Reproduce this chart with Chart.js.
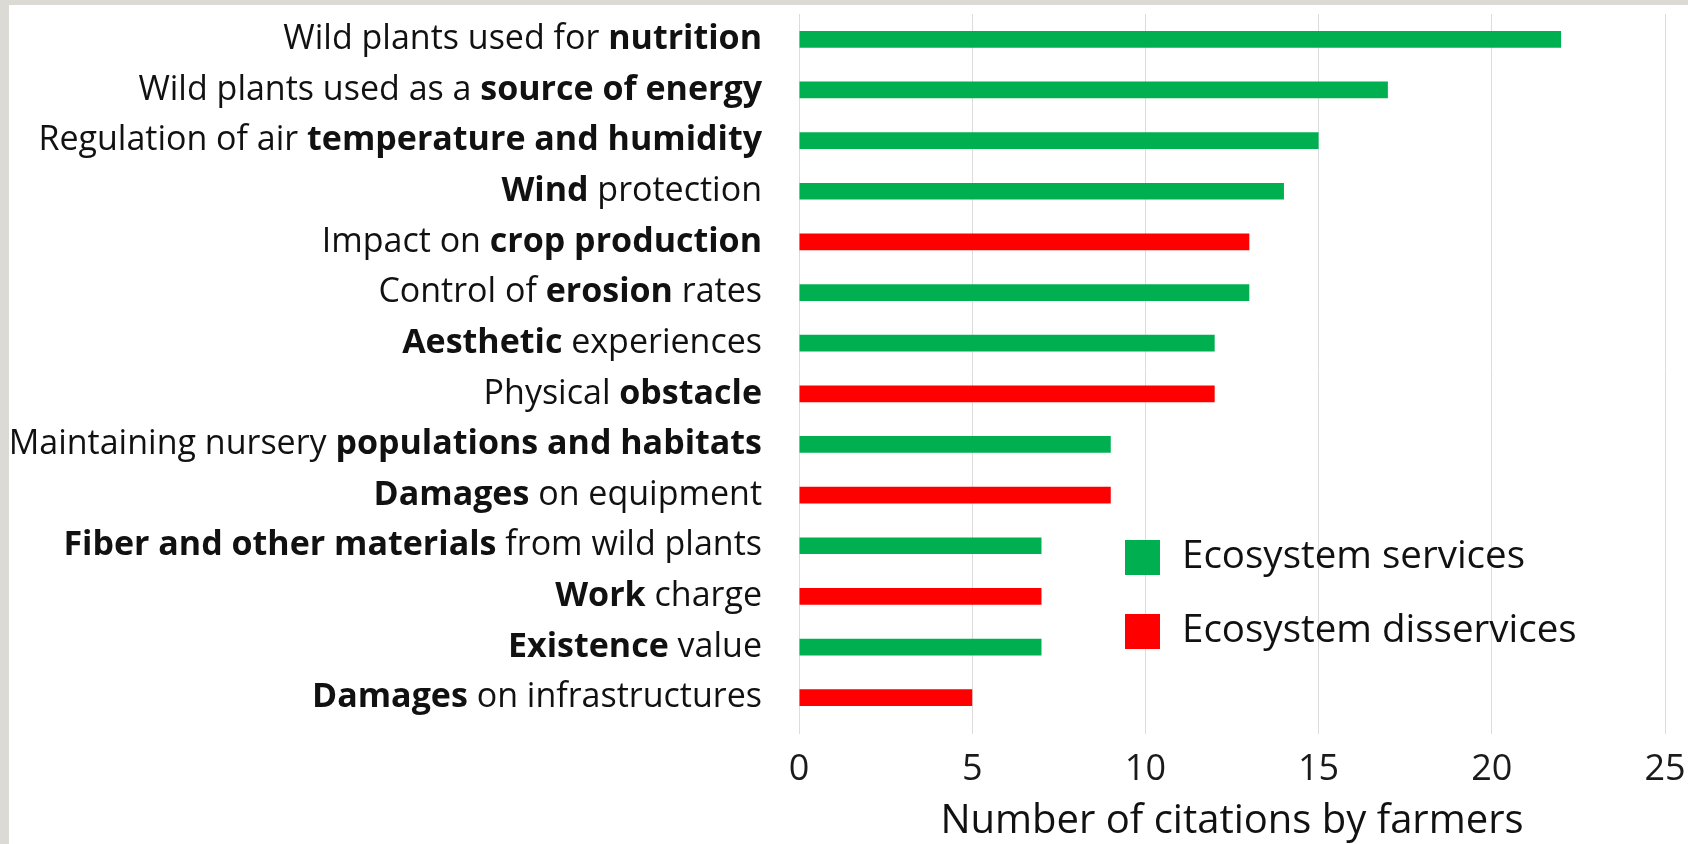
<!DOCTYPE html>
<html>
<head>
<meta charset="utf-8">
<script src="https://cdn.jsdelivr.net/npm/chart.js@4"></script>
<style>
  html, body { margin: 0; padding: 0; }
  body { width: 1688px; height: 844px; background: #dcdad5; position: relative; overflow: hidden; }
  #wrap { position: absolute; left: 9px; top: 5px; width: 1679px; height: 839px; background: #fff; }
</style>
</head>
<body>
<div id="wrap"><canvas id="chart" width="1679" height="839"></canvas></div>
<script>
// ** marks the bold part of each category label
const categories = [
  'Wild plants used for **nutrition**',
  'Wild plants used as a **source of energy**',
  'Regulation of air **temperature and humidity**',
  '**Wind** protection',
  'Impact on **crop production**',
  'Control of **erosion** rates',
  '**Aesthetic** experiences',
  'Physical **obstacle**',
  'Maintaining nursery **populations and habitats**',
  '**Damages** on equipment',
  '**Fiber and other materials** from wild plants',
  '**Work** charge',
  '**Existence** value',
  '**Damages** on infrastructures'
];
const servicesValues    = [22, 17, 15, 14, null, 13, 12, null, 9, null, 7, null, 7, null];
const disservicesValues = [null, null, null, null, 13, null, null, 12, null, 9, null, 7, null, 5];
const seriesNames = ['Ecosystem services', 'Ecosystem disservices'];
const xTicks = [0, 5, 10, 15, 20, 25];
const xTitle = 'Number of citations by farmers';

const FONT = '"Open Sans", sans-serif';
const GREEN = '#00b050';
const RED = '#ff0000';

// draws category labels with mixed regular/bold parts
const richLabels = {
  id: 'richLabels',
  afterDraw(chart) {
    const ctx = chart.ctx;
    const yScale = chart.scales.y;
    const right = chart.chartArea.left - 37;
    ctx.save();
    ctx.fillStyle = '#111';
    ctx.textBaseline = 'middle';
    ctx.textAlign = 'left';
    categories.forEach((label, i) => {
      const y = yScale.getPixelForValue(i);
      const parts = label.split('**');
      let x = right;
      for (let p = parts.length - 1; p >= 0; p--) {
        if (!parts[p]) continue;
        ctx.font = (p % 2 ? 'bold ' : '') + '34px ' + FONT;
        x -= ctx.measureText(parts[p]).width;
        ctx.fillText(parts[p], x, y);
      }
    });
    ctx.restore();
  }
};

// legend inside the plot area
const boxLegend = {
  id: 'boxLegend',
  afterDraw(chart) {
    const ctx = chart.ctx;
    const area = chart.chartArea;
    ctx.save();
    ctx.font = '38.5px ' + FONT;
    ctx.textBaseline = 'middle';
    chart.data.datasets.forEach((ds, i) => {
      const cy = area.top + 543 + i * 74;
      const bx = area.left + 326;
      ctx.fillStyle = ds.backgroundColor;
      ctx.fillRect(bx, cy - 17, 35, 35);
      ctx.fillStyle = '#111';
      ctx.fillText(ds.label, bx + 57, cy);
    });
    ctx.restore();
  }
};

new Chart(document.getElementById('chart'), {
  type: 'bar',
  data: {
    labels: categories.map(c => c.replace(/\*\*/g, '')),
    datasets: [
      { label: seriesNames[0], data: servicesValues, backgroundColor: GREEN },
      { label: seriesNames[1], data: disservicesValues, backgroundColor: RED }
    ]
  },
  options: {
    indexAxis: 'y',
    responsive: false,
    animation: false,
    layout: { padding: { left: 790, right: 23, top: 9, bottom: 0 } },
    datasets: { bar: { categoryPercentage: 1, barPercentage: 0.33 } },
    plugins: { legend: { display: false }, tooltip: { enabled: false } },
    scales: {
      y: { stacked: true, display: false },
      x: {
        stacked: true,
        min: 0,
        max: 25,
        afterBuildTicks: (scale) => { scale.ticks = xTicks.map(v => ({ value: v })); },
        border: { display: false },
        grid: { color: '#dcdcdc', lineWidth: 1, tickLength: 11 },
        ticks: { padding: 0, color: '#1a1a1a', font: { family: FONT, size: 36, lineHeight: 2 } },
        title: {
          display: true,
          text: xTitle,
          color: '#111',
          font: { family: FONT, size: 40, lineHeight: 1 },
          padding: { top: -4, bottom: 2 }
        }
      }
    }
  },
  plugins: [richLabels, boxLegend]
});
</script>
</body>
</html>
